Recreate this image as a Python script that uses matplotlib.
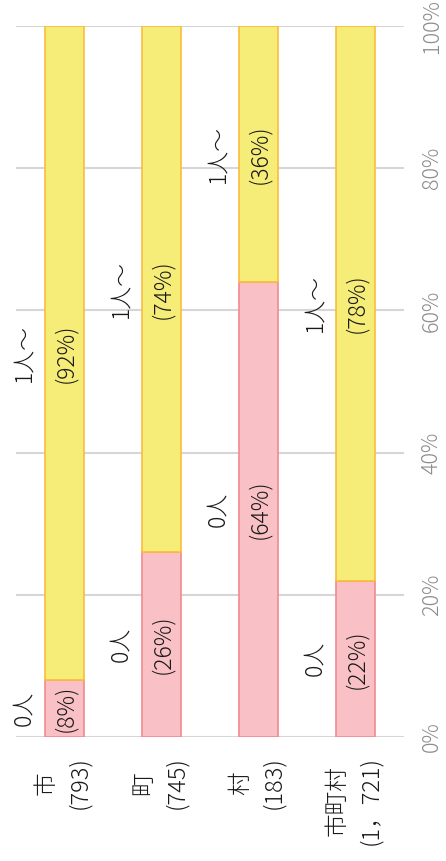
import numpy as np
import matplotlib
matplotlib.use('Agg')
import matplotlib.pyplot as plt

plt.rcParams['font.family'] = ['Noto Sans CJK JP', 'DejaVu Sans']
plt.rcParams['font.weight'] = 'light'

# Municipality groups and their respondent counts
categories = ['市', '町', '村', '市町村']
counts = ['(793)', '(745)', '(183)', '(1，721)']
# Share of respondents (%) per answer group
zero_pct = [8, 26, 64, 22]
one_plus_pct = [92, 74, 36, 78]
series_names = ['0人', '1人～']

pink_fill, pink_edge = '#f9c1c5', '#f08a90'
yellow_fill, yellow_edge = '#f6ec78', '#f9bd3c'

fig = plt.figure(figsize=(4.46, 8.61), dpi=100)
ax = fig.add_axes([16/446, 124/861, 388/446, 711/861])

x = np.arange(len(categories))
width = 0.41
b1 = ax.bar(x, zero_pct, width, color=pink_fill, edgecolor=pink_edge, linewidth=1.2, zorder=3)
b2 = ax.bar(x, one_plus_pct, width, bottom=zero_pct, color=yellow_fill,
            edgecolor=yellow_edge, linewidth=1.2, zorder=3)

# segment labels: name to the left of the bar, percentage inside
for i in range(len(categories)):
    for name, bottom, val in ((series_names[0], 0, zero_pct[i]),
                              (series_names[1], zero_pct[i], one_plus_pct[i])):
        ymid = bottom + val / 2
        ax.annotate(f'({val}%)', (x[i], ymid), xytext=(0.7, 0), textcoords='offset points',
                    rotation=90, ha='center', va='center', fontsize=16.5, color='#1a1a1a', zorder=4)
        ax.annotate(name, (x[i], ymid), xytext=(-29, 0), textcoords='offset points',
                    rotation=90, ha='center', va='center', fontsize=16.5, color='#1a1a1a', zorder=4)

ax.set_xlim(-0.5, len(categories) - 0.5)
ax.set_ylim(0, 100)
ax.set_yticks(range(0, 101, 20))
ax.set_yticklabels([f'{v}%' for v in range(0, 101, 20)], rotation=90, va='center',
                   color='#8c8c8c', fontsize=15.5)
ax.yaxis.tick_right()
ax.tick_params(axis='y', length=0, pad=12)
ax.set_xticks([])

# category labels under the axis
for i, (c, n) in enumerate(zip(categories, counts)):
    ax.annotate(f'{c}\n{n}', (x[i], 0), xytext=(-1, -14), textcoords='offset points',
                rotation=90, ha='center', va='top', multialignment='center',
                fontsize=17, color='#1a1a1a', linespacing=1.45, annotation_clip=False)

ax.grid(axis='y', color='#d6d6d6', linewidth=1.5, zorder=0)
for s in ax.spines.values():
    s.set_visible(False)

fig.savefig('out.png', dpi=100)
